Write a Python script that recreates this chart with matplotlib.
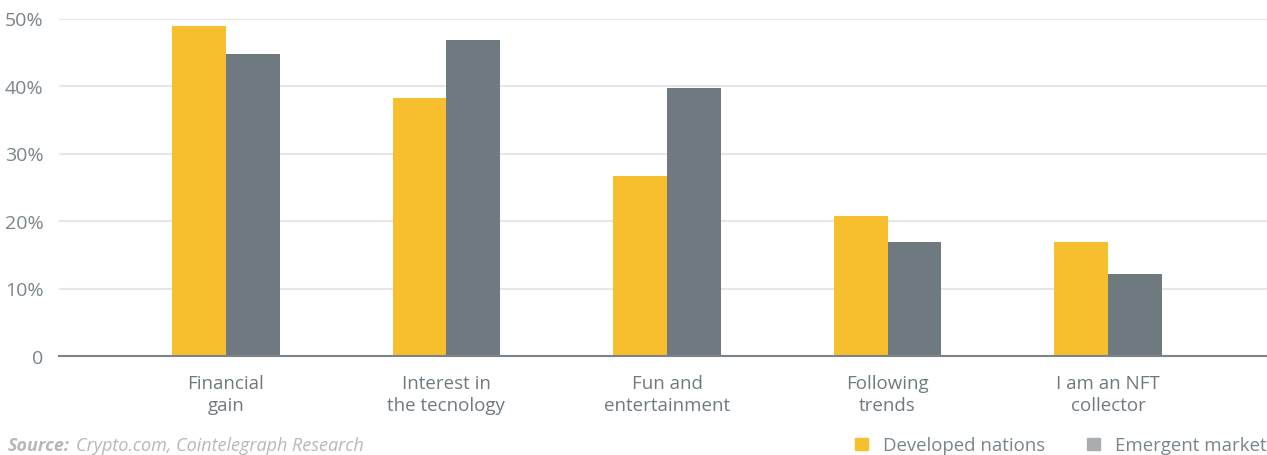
import matplotlib.pyplot as plt
import matplotlib.patches as mpatches
import numpy as np

# Chart data
categories = ["Financial\ngain", "Interest in\nthe tecnology", "Fun and\nentertainment",
              "Following\ntrends", "I am an NFT\ncollector"]
developed = [48.9, 38.2, 26.7, 20.7, 16.9]
emergent = [44.8, 46.8, 39.7, 16.9, 12.1]
yticks = [0, 10, 20, 30, 40, 50]
ytick_labels = ["0", "10%", "20%", "30%", "40%", "50%"]

yellow = '#F7BE2D'
grey = '#6F7A80'
text_grey = '#7A848A'

plt.rcParams['font.family'] = ['Open Sans', 'DejaVu Sans']

fig = plt.figure(figsize=(12.67, 4.56), dpi=100)
ax = fig.add_axes([59 / 1267, 1 - 357 / 456, 1208 / 1267, (357 - 19.5) / 456])

x = np.arange(len(categories))
w = 0.244
ax.bar(x - w / 2, developed, width=w, color=yellow, zorder=3)
ax.bar(x + w / 2, emergent, width=w, color=grey, zorder=3)

ax.set_xlim(-0.756, 4.72)
ax.set_ylim(0, 50)
ax.set_yticks(yticks)
ax.set_yticklabels(ytick_labels)
ax.set_xticks(x)
ax.set_xticklabels(categories, linespacing=1.25)
ax.yaxis.grid(True, color='#E6E6E6', linewidth=1.5, zorder=0)
ax.set_axisbelow(True)
for s in ['top', 'right', 'left']:
    ax.spines[s].set_visible(False)
ax.spines['bottom'].set_color(text_grey)
ax.spines['bottom'].set_linewidth(1.5)
ax.spines['bottom'].set_zorder(4)
ax.tick_params(axis='y', length=0, pad=11, labelsize=14, labelcolor=text_grey)
ax.tick_params(axis='x', length=0, pad=13, labelsize=13.5, labelcolor=grey)

# source note
src = fig.text(8 / 1267, 1 - 446 / 456, "Source:", fontsize=13, style='italic', weight='bold',
               color='#B4B8BB', va='center', ha='left')
ax.annotate("Crypto.com, Cointelegraph Research", xy=(1, 0.5), xycoords=src,
            xytext=(4, 0), textcoords='offset points', fontsize=13, style='italic',
            color='#B4B8BB', va='center', ha='left', annotation_clip=False)

# legend (the reference cuts the last label off at the right edge)
for sx, label, col in [(855, "Developed nations", yellow), (1087, "Emergent markets", '#A9ADB0')]:
    fig.patches.append(mpatches.Rectangle((sx / 1267, 1 - 451 / 456), 13 / 1267, 12 / 456,
                                          transform=fig.transFigure, color=col))
    fig.text((sx + 28) / 1267, 1 - 446 / 456, label, fontsize=13.4, color=text_grey,
             va='center', ha='left')

fig.savefig('out.png', dpi=100)
